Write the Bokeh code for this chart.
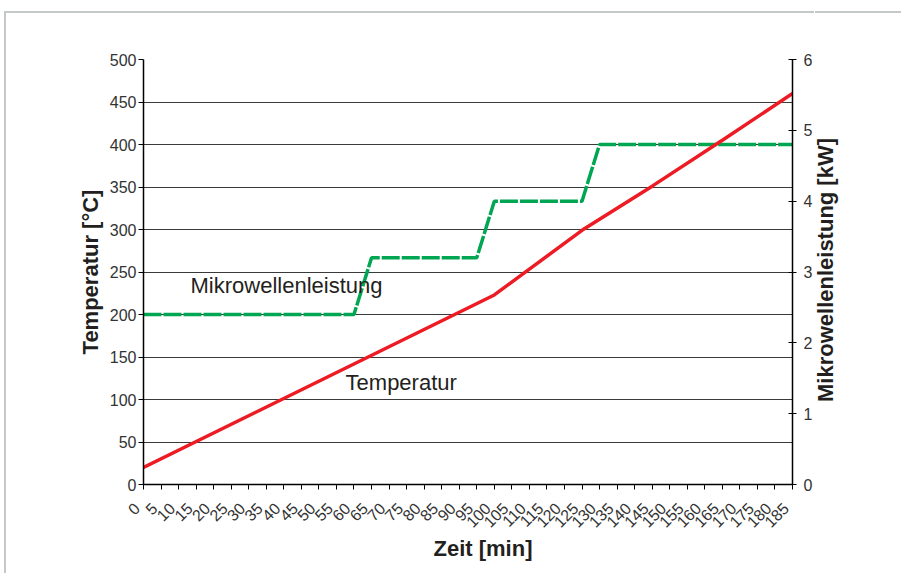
import math
from bokeh.plotting import figure
from bokeh.models import Range1d, LinearAxis, FixedTicker, Label, Title, Div
from bokeh.layouts import row
from bokeh.embed import file_html
from bokeh.resources import INLINE

# Data
zeit_temp = [0, 100, 125, 145, 165, 185]
temperatur = [20, 223, 299, 351, 405, 460]
zeit_power = [0, 60, 65, 95, 100, 125, 130, 185]
leistung = [2.4, 2.4, 3.2, 3.2, 4.0, 4.0, 4.8, 4.8]
x_ticks = list(range(0, 186, 5))
y_ticks = list(range(0, 501, 50))
y2_ticks = [0, 1, 2, 3, 4, 5, 6]

FONT = "Liberation Sans"
TXT = "#231f20"
FRAME = "2px solid #c4c8c8"

p = figure(width=810, height=562, x_range=Range1d(0, 185), y_range=Range1d(0, 500),
           output_backend="svg", toolbar_location=None,
           min_border_left=137, min_border_right=24, min_border_top=46, min_border_bottom=91)
p.styles = {"margin-left": "4px", "margin-top": "11px",
            "border-left": FRAME, "border-top": FRAME}
p.outline_line_color = None
p.background_fill_color = "white"
p.border_fill_color = "white"
p.extra_y_ranges = {"kw": Range1d(0, 6)}

# grid
p.xgrid.visible = False
p.ygrid.ticker = FixedTicker(ticks=y_ticks)
p.ygrid.grid_line_color = "#3a3a3a"
p.ygrid.grid_line_width = 1

# x axis
xa = p.xaxis[0]
xa.ticker = FixedTicker(ticks=x_ticks)
xa.major_label_orientation = math.pi / 4
xa.major_label_overrides = {t: f"{t}\u00a0\u00a0" for t in x_ticks}
xa.minor_tick_line_color = None
xa.major_tick_in = 0
xa.major_tick_out = 5
xa.axis_line_width = 1.5
xa.axis_line_color = "black"
xa.major_tick_line_color = "black"

# left axis
ya = p.yaxis[0]
ya.ticker = FixedTicker(ticks=y_ticks)
ya.axis_label = "Temperatur [°C]"
ya.minor_tick_line_color = None
ya.major_tick_in = 0
ya.major_tick_out = 5
ya.axis_line_width = 1.5
ya.axis_line_color = "black"
ya.major_tick_line_color = "black"

# right axis
ra = LinearAxis(y_range_name="kw")
ra.ticker = FixedTicker(ticks=y2_ticks)
ra.minor_tick_line_color = None
ra.major_tick_in = 4
ra.major_tick_out = 4
ra.axis_line_width = 1.5
ra.axis_line_color = "black"
ra.major_tick_line_color = "black"
p.add_layout(ra, "right")

for ax in (xa, ya, ra):
    ax.major_label_text_font = FONT
    ax.major_label_text_font_size = "16px"
    ax.major_label_text_color = "#333333"
    ax.axis_label_text_font = FONT
    ax.axis_label_text_font_size = "22px"
    ax.axis_label_text_font_style = "bold"
    ax.axis_label_text_color = TXT
    ax.axis_label_standoff = 4
ya.major_label_standoff = 2
ra.major_label_standoff = 7
xa.major_label_standoff = 10

# x-axis title
p.add_layout(Title(text="Zeit [min]", align="left", offset=290, standoff=-12,
                   text_font=FONT, text_font_size="22px", text_font_style="bold",
                   text_color=TXT), "below")

# series
p.line(zeit_power, leistung, y_range_name="kw", line_color="#00a651", line_width=3.5,
       line_dash="18 2")
p.line(zeit_temp, temperatur, line_color="#ed1c24", line_width=3.5)

p.add_layout(Label(x=13.4, y=234, text="Mikrowellenleistung", text_baseline="middle",
                   text_font=FONT, text_font_size="22px", text_color=TXT))
p.add_layout(Label(x=57.6, y=120, text="Temperatur", text_baseline="middle",
                   text_font=FONT, text_font_size="22px", text_color=TXT))

# right axis title (rotated, reading bottom-to-top); its bottom border becomes the frame top
rtitle = Div(text="Mikrowellenleistung [kW]", width=86, height=516,
             styles={"margin-top": "11px", "margin-left": "1px",
                     "writing-mode": "vertical-rl", "transform": "rotate(180deg)",
                     "text-align": "center", "border-bottom": FRAME,
                     "font-family": FONT, "font-size": "22px", "font-weight": "bold",
                     "color": TXT, "white-space": "nowrap", "line-height": "22px"})

layout = row(p, rtitle)
open("out.html", "w").write(file_html(layout, INLINE))
